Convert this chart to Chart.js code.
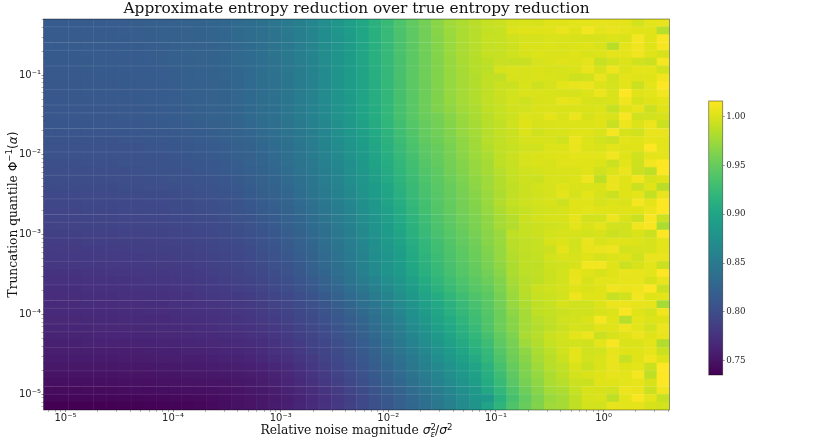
<!DOCTYPE html>
<html>
<head>
<meta charset="utf-8">
<title>Approximate entropy reduction</title>
<script src="https://cdn.jsdelivr.net/npm/chart.js@4/dist/chart.umd.min.js"></script>
<style>
  html, body { margin: 0; padding: 0; background: #fff; }
  canvas { position: absolute; top: 0; }
</style>
</head>
<body>
<canvas id="heatChart" width="830" height="443" style="left:0"></canvas>
<canvas id="barChart" width="70" height="443" style="left:700px"></canvas>
<script>
// heatmap values x1000, one array per row, top row first, 50 columns each
const row00 = [815,815,815,815,815,816,816,817,818,819,820,821,823,825,827,830,833,837,842,848,854,862,870,880,890,900,911,922,934,944,953,963,972,978,983,988,990,994,996,995,998,999,1000,1000,1002,1001,1001,993,1000,1003];
const row01 = [815,815,815,815,815,815,816,816,817,818,819,821,822,824,826,829,832,836,841,847,853,861,869,879,889,899,910,921,933,943,952,962,971,977,982,987,988,997,998,999,999,1003,999,1007,1001,1003,1001,999,999,982];
const row02 = [814,814,814,814,814,815,815,816,817,818,819,820,822,824,826,829,832,836,841,846,853,860,869,878,888,899,910,921,932,943,952,961,970,977,982,988,988,992,994,994,996,996,995,995,995,997,996,1008,998,1010];
const row03 = [814,814,814,814,814,814,815,815,816,817,818,820,821,823,825,828,831,835,840,846,852,860,868,878,888,898,909,920,932,942,952,961,970,976,982,987,988,991,996,996,997,996,997,998,996,983,1001,1006,998,1009];
const row04 = [813,813,813,814,814,814,815,815,816,817,818,820,821,823,825,828,831,835,840,846,852,860,868,878,888,898,909,920,932,942,951,961,970,976,982,988,988,992,995,997,996,996,998,996,997,1001,1001,1006,998,995];
const row05 = [813,813,813,813,814,814,814,815,816,817,818,819,821,823,825,828,831,835,839,845,852,859,868,877,887,898,909,920,931,942,951,960,969,976,981,985,989,988,989,994,996,999,997,1001,988,993,997,992,990,1008];
const row06 = [812,812,812,813,813,813,814,814,815,816,817,819,820,822,824,827,830,834,839,845,851,859,867,877,887,897,908,919,931,941,951,960,969,975,981,984,994,996,995,996,995,994,996,1003,995,1005,997,1001,1000,993];
const row07 = [812,812,812,812,813,813,813,814,815,816,817,818,820,822,824,827,830,834,838,844,851,858,867,876,886,897,908,919,931,941,951,960,968,975,980,986,986,995,995,996,996,995,991,992,1003,993,1001,999,999,1006];
const row08 = [811,811,811,812,812,812,813,813,814,815,816,818,819,821,823,826,830,834,838,844,850,858,866,876,886,896,907,919,930,941,950,960,968,975,980,986,990,990,996,991,994,1000,1003,1004,997,994,1000,990,1000,1014];
const row09 = [811,811,811,812,812,812,813,813,814,815,816,818,819,821,823,826,829,833,838,843,850,858,866,876,886,896,907,918,930,940,950,959,968,974,980,986,990,993,996,996,996,995,994,997,1004,996,1016,998,1000,1007];
const row10 = [811,811,811,811,812,812,812,813,814,815,816,817,819,821,823,826,829,833,837,843,850,857,866,875,885,896,907,918,930,940,950,959,967,974,979,986,989,993,991,995,996,1002,1000,995,994,996,1006,995,999,1001];
const row11 = [810,810,810,811,811,811,812,812,813,814,815,817,818,820,822,825,829,833,837,842,849,857,865,875,885,895,906,918,930,940,950,959,966,973,978,985,988,992,993,996,996,996,996,996,997,988,998,1002,990,998];
const row12 = [810,810,810,811,811,811,812,812,813,814,815,817,818,820,822,825,829,833,837,842,849,857,865,875,885,895,906,918,930,940,949,954,962,970,976,983,988,991,997,996,1001,996,1004,995,998,996,1010,992,993,995];
const row13 = [809,809,809,809,810,810,810,811,812,813,814,815,817,819,821,824,828,832,836,841,848,855,863,873,883,893,904,916,928,938,947,953,961,969,975,982,986,992,998,995,996,997,997,997,999,989,1005,997,1004,990];
const row14 = [808,808,808,808,808,809,809,810,811,811,812,814,815,817,819,822,826,830,834,840,846,854,862,871,881,891,902,914,926,936,946,952,960,968,974,982,987,990,997,992,995,996,999,998,996,1008,995,992,1003,1003];
const row15 = [806,806,806,807,807,807,808,808,809,810,811,812,814,816,818,821,824,828,833,838,845,852,860,869,879,889,900,912,924,934,944,950,958,966,973,982,986,990,994,995,995,992,1004,997,993,991,1000,998,1002,1000];
const row16 = [805,805,805,805,806,806,806,807,808,808,809,811,812,814,816,819,823,827,831,837,843,851,859,867,877,887,898,910,922,932,942,948,956,965,972,980,986,988,992,992,997,997,1003,997,996,1000,999,999,1012,1000];
const row17 = [804,804,804,804,804,805,805,806,806,807,808,809,811,813,815,818,821,825,830,835,842,849,857,865,875,885,896,908,920,930,940,947,955,963,971,977,985,990,995,996,997,998,1001,1000,1000,1007,998,992,1001,1001];
const row18 = [802,802,802,803,803,803,804,804,805,806,807,808,809,811,813,816,820,824,828,834,840,847,855,863,873,883,894,906,918,928,938,945,953,961,969,975,985,988,994,996,995,998,998,998,997,990,1000,991,1007,1012];
const row19 = [801,801,801,801,802,802,802,803,804,804,805,806,808,810,812,815,818,822,827,832,839,846,854,861,871,881,892,904,916,926,936,943,952,960,968,975,982,988,992,993,995,996,996,999,992,997,1004,990,985,1018];
const row20 = [800,800,800,800,800,801,801,802,802,803,804,805,806,808,810,813,817,821,825,830,837,844,852,860,869,879,890,902,914,924,934,942,950,958,966,972,980,987,991,990,995,995,997,1005,985,1003,999,1006,995,998];
const row21 = [798,798,798,798,799,799,800,800,801,801,802,803,805,806,808,811,815,819,823,828,835,842,850,858,867,877,888,899,911,922,932,940,948,956,964,972,980,985,990,993,994,998,996,996,996,1004,998,990,998,983];
const row22 = [796,796,796,797,797,797,798,798,799,799,800,801,803,804,806,809,813,817,821,826,833,840,848,856,865,875,886,897,909,921,931,939,947,955,962,970,978,986,990,992,994,1000,994,1000,995,990,998,1000,987,1003];
const row23 = [794,794,794,795,795,795,796,796,797,797,798,799,801,802,804,807,811,815,819,824,830,838,845,853,862,872,883,895,907,919,929,938,946,954,961,970,980,987,991,993,995,991,998,998,994,997,996,1008,1001,1012];
const row24 = [793,793,793,794,794,794,795,795,796,796,797,798,800,801,803,806,809,813,817,822,828,835,843,851,860,870,881,893,905,917,928,937,945,953,960,968,978,985,988,992,993,995,998,1000,998,999,999,999,1004,1016];
const row25 = [791,791,791,792,792,792,793,793,794,794,795,796,798,799,801,804,807,811,815,820,826,833,841,849,858,868,879,890,902,914,925,935,943,951,958,966,975,981,990,993,995,995,1002,993,993,1005,996,990,1010,990];
const row26 = [789,789,789,790,790,790,791,791,792,792,793,794,796,797,799,802,805,809,813,818,824,831,838,847,856,866,877,888,900,912,923,933,941,949,957,965,975,980,988,990,992,993,1000,996,1000,993,992,1006,1010,978];
const row27 = [787,787,787,788,788,788,789,789,790,790,791,792,794,796,798,800,803,807,811,816,822,829,836,845,854,864,875,886,897,910,921,931,939,947,955,963,970,985,988,990,993,995,995,993,995,990,992,996,990,1016];
const row28 = [785,785,785,786,786,786,787,787,788,788,789,790,792,794,796,798,801,805,809,814,820,827,834,843,852,862,873,884,894,907,918,928,937,945,952,962,970,983,986,988,995,997,993,1003,996,998,998,997,995,1000];
const row29 = [783,783,783,784,784,785,785,786,786,787,787,788,790,792,794,796,799,803,807,812,818,825,832,841,850,860,871,881,891,904,916,926,935,943,950,960,968,982,986,988,990,1001,993,1002,1003,1005,993,994,995,1000];
const row30 = [782,782,782,782,783,783,784,784,785,785,786,787,788,790,792,794,797,801,805,810,816,823,830,839,848,858,869,879,889,902,914,924,933,941,949,958,968,980,985,987,993,996,995,998,994,997,998,992,1003,1003];
const row31 = [779,779,779,780,780,781,781,782,782,783,783,784,786,788,790,792,795,799,803,807,813,820,828,836,846,856,867,877,887,900,912,922,931,939,947,956,966,978,985,985,991,992,995,1007,1007,998,990,995,1000,990];
const row32 = [776,776,776,777,777,778,778,779,780,780,781,782,784,786,788,790,793,796,800,805,811,818,825,834,844,855,866,876,885,898,910,920,930,938,945,953,963,978,984,986,990,993,1002,998,995,998,1003,1002,1000,1014];
const row33 = [774,774,774,775,775,776,776,777,778,778,779,780,782,784,786,788,790,794,798,802,808,814,821,830,840,850,860,870,880,893,905,916,926,934,942,950,960,975,982,985,990,993,1003,995,1000,1000,1002,1002,995,1003];
const row34 = [772,772,772,773,773,774,774,775,776,776,777,778,780,782,784,786,788,791,795,800,805,811,818,826,835,844,855,865,876,888,900,911,922,931,939,945,958,972,983,990,992,994,998,996,998,1006,1004,1005,1012,990];
const row35 = [771,771,771,772,772,772,773,773,774,774,775,776,778,780,781,782,785,788,792,796,801,807,813,821,830,838,849,860,871,883,895,906,917,926,935,942,955,970,982,988,990,993,1005,998,999,988,992,1007,999,1000];
const row36 = [769,769,769,770,770,770,771,771,772,772,773,774,775,777,778,780,782,785,789,793,798,803,809,817,825,834,844,855,867,878,890,901,912,922,931,940,953,968,978,985,988,995,992,992,997,1004,1004,1002,1002,975];
const row37 = [768,768,768,769,769,769,770,770,771,771,772,773,774,775,777,778,780,783,786,790,795,800,806,813,821,829,839,850,862,874,886,898,909,919,928,938,950,965,975,985,987,990,992,992,995,997,1010,998,994,1006];
const row38 = [766,766,766,767,767,767,768,768,769,769,770,771,772,773,775,776,778,781,784,788,793,798,803,810,817,825,835,846,858,870,882,894,905,915,925,936,950,962,974,982,986,992,993,996,1008,998,982,1000,997,998];
const row39 = [765,765,765,765,766,766,766,767,767,768,768,769,770,771,773,774,776,778,781,785,790,795,800,807,814,822,832,843,854,866,878,890,901,912,922,935,950,962,974,980,985,990,994,993,998,998,1005,1000,993,1004];
const row40 = [763,763,763,763,764,764,764,765,765,766,766,767,768,769,770,771,773,775,778,782,787,792,797,804,811,819,828,839,850,861,873,885,897,908,918,930,945,958,976,982,990,993,1000,1004,990,995,998,1004,999,1003];
const row41 = [760,760,760,761,761,761,762,762,762,763,763,764,765,766,767,768,770,772,775,779,784,789,794,801,808,816,825,835,846,857,868,880,892,903,914,925,943,955,972,980,988,992,993,992,1000,1010,996,996,1000,980];
const row42 = [758,758,758,758,758,759,759,759,760,760,760,761,762,763,764,765,767,770,773,777,781,787,792,798,805,813,822,832,842,852,863,875,887,898,909,920,938,952,965,977,984,992,1000,992,993,1002,998,998,1002,990];
const row43 = [756,756,756,756,756,756,757,757,757,758,758,759,759,760,761,762,764,767,770,773,778,783,789,795,803,810,819,828,838,848,859,870,881,892,903,918,935,950,962,975,983,990,1000,993,996,1003,988,999,1006,997];
const row44 = [752,752,752,752,752,752,753,753,753,754,754,755,755,756,757,758,760,762,765,769,774,780,786,793,800,808,816,825,835,845,855,865,875,886,897,912,930,947,960,972,982,986,996,990,996,1003,998,1000,990,1018];
const row45 = [749,749,749,749,749,749,750,750,750,751,751,752,753,753,754,755,757,759,762,766,771,777,783,790,797,805,813,822,831,841,851,861,871,882,893,908,925,943,958,968,978,985,993,996,998,1002,1000,1008,985,1018];
const row46 = [746,746,746,746,746,746,747,747,747,748,748,749,749,750,751,752,754,757,760,764,769,774,780,786,794,802,810,818,827,837,847,857,867,878,889,905,922,940,955,965,977,982,990,990,998,998,1000,1002,995,1014];
const row47 = [743,743,743,743,743,743,744,744,744,745,745,746,746,747,748,750,752,754,757,761,766,771,777,783,791,799,807,815,823,832,841,851,861,872,883,900,918,935,950,962,974,978,988,995,995,993,1004,1003,990,1006];
const row48 = [740,740,740,740,740,740,740,740,741,741,742,742,743,744,746,748,750,752,755,759,763,768,773,780,787,795,803,811,819,828,837,847,857,868,879,885,910,930,945,958,970,975,985,995,996,985,1000,1010,1000,988];
const row49 = [735,735,735,735,735,736,736,736,737,737,738,739,740,742,745,748,750,753,756,760,765,770,775,781,788,795,803,811,819,827,835,845,855,866,877,895,915,935,948,960,972,975,985,993,993,1002,1000,1001,995,993];
const rows = [row00,row01,row02,row03,row04,row05,row06,row07,row08,row09,row10,row11,row12,row13,row14,row15,row16,row17,row18,row19,row20,row21,row22,row23,row24,row25,row26,row27,row28,row29,row30,row31,row32,row33,row34,row35,row36,row37,row38,row39,row40,row41,row42,row43,row44,row45,row46,row47,row48,row49];

// axis range, as log10 of the limits
const xLogRange = [-5.204, 0.613];
const yLogRange = [-5.197, -0.297];
const xTickExps = [-5, -4, -3, -2, -1, 0];
const yTickExps = [-5, -4, -3, -2, -1];
const barTicks = [0.75, 0.80, 0.85, 0.90, 0.95, 1.00];
const barRange = [0.7353, 1.016];
const colorTop = 1.012;

// row/column borders where the mesh shows a thin light seam
const seamRows = [1,3,4,6,9,11,12,14,15,17,20,23,25,26,28,31,34,36,37,39,40,42,45,47,48];
const seamCols = [2,4,5,7,9,11,13,15,17,18,19,21,22,23,25,27,28,30,31,33,34,36,37,38,39,41,45,46,48];

const supers = { '-': '⁻', '0': '⁰', '1': '¹', '2': '²', '3': '³', '4': '⁴', '5': '⁵' };
const viridis = ['#440154','#471365','#482475','#463480','#414487','#3b528b','#355f8d','#2f6c8e','#2a788e','#25848e','#21918c','#1e9c89','#22a884','#2fb47c','#44bf70','#5ec962','#7ad151','#9bd93c','#bddf26','#dfe318','#fde725'];

const serif = '"DejaVu Serif"';
const sans = '"DejaVu Sans"';
const frameColor = 'rgba(0,0,0,0.5)';

function hexToRgb(hex) {
    return [1, 3, 5].map(i => parseInt(hex.slice(i, i + 2), 16));
}

function colorFor(value) {
    let t = (value - barRange[0]) / (colorTop - barRange[0]);
    t = Math.min(1, Math.max(0, t)) * (viridis.length - 1);
    const i = Math.min(viridis.length - 2, Math.floor(t));
    const a = hexToRgb(viridis[i]);
    const b = hexToRgb(viridis[i + 1]);
    const mix = a.map((v, k) => Math.round(v + (b[k] - v) * (t - i)));
    return `rgb(${mix[0]},${mix[1]},${mix[2]})`;
}

function tickLabel(exp) {
    return '10' + String(exp).split('').map(ch => supers[ch]).join('');
}

const nRows = rows.length;
const nCols = rows[0].length;
const xEdge = i => Math.pow(10, xLogRange[0] + (xLogRange[1] - xLogRange[0]) * i / nCols);
// rows run from the top of the plot down
const yEdge = i => Math.pow(10, yLogRange[1] - (yLogRange[1] - yLogRange[0]) * i / nRows);

const cellData = [];
const cellColors = [];
rows.forEach((row, r) => {
    row.forEach((v, c) => {
        cellData.push({ y: Math.sqrt(yEdge(r) * yEdge(r + 1)), x: [xEdge(c), xEdge(c + 1)] });
        cellColors.push(colorFor(v / 1000));
    });
});

const seamSets = [
    ...seamRows.map(r => ({
        type: 'line', order: 0, pointRadius: 0, borderWidth: 1, borderColor: 'rgba(255,255,255,0.1)',
        data: [{ x: xEdge(0), y: yEdge(r) }, { x: xEdge(nCols), y: yEdge(r) }]
    })),
    ...seamCols.map(c => ({
        type: 'line', order: 0, pointRadius: 0, borderWidth: 1, borderColor: 'rgba(255,255,255,0.025)',
        data: [{ x: xEdge(c), y: yEdge(0) }, { x: xEdge(c), y: yEdge(nRows) }]
    }))
];

// log ticks: decades plus the 2..9 minors in each one
function logTicks(scale, exps) {
    const lo = exps[0] - 1;
    const hi = exps[exps.length - 1] + 1;
    const list = [];
    for (let e = lo; e <= hi; e++) {
        for (let m = 1; m < 10; m++) {
            const value = m * Math.pow(10, e);
            if (value >= scale.min && value <= scale.max) list.push({ value: value, major: m === 1 });
        }
    }
    scale.ticks = list;
}

function logAxis(range, exps) {
    return {
        type: 'logarithmic',
        min: Math.pow(10, range[0]),
        max: Math.pow(10, range[1]),
        offset: false,
        beginAtZero: false,
        border: { display: false },
        grid: {
            offset: false,
            drawOnChartArea: false,
            drawTicks: true,
            tickLength: 2,
            tickWidth: 0.7,
            tickColor: ctx => (ctx.tick && ctx.tick.major) ? 'rgba(0,0,0,0.6)' : 'rgba(0,0,0,0.4)'
        },
        ticks: {
            autoSkip: false,
            maxRotation: 0,
            padding: 0.5,
            color: '#262626',
            font: { family: sans, size: 10 },
            callback: function (value) {
                const exp = Math.round(Math.log10(value));
                if (Math.abs(Math.pow(10, exp) - value) / value > 1e-6) return '';
                return tickLabel(exp);
            }
        },
        afterBuildTicks: scale => logTicks(scale, exps)
    };
}

// text with super/subscripts, axis titles can't do this on their own
function drawRuns(ctx, runs, size) {
    const fontOf = run => `${run.italic ? 'italic ' : ''}${size * (run.scale || 1)}px ${run.math ? sans : serif}`;
    let total = 0;
    runs.forEach(run => {
        ctx.font = fontOf(run);
        if (!run.stacked) total += ctx.measureText(run.text).width;
    });
    let x = -total / 2;
    ctx.textAlign = 'left';
    ctx.textBaseline = 'alphabetic';
    ctx.fillStyle = '#111';
    runs.forEach(run => {
        ctx.font = fontOf(run);
        ctx.fillText(run.text, x, run.dy || 0);
        if (!run.stacked) x += ctx.measureText(run.text).width;
    });
}

const xTitleRuns = [
    { text: 'Relative noise magnitude ' },
    { text: 'σ', math: true, italic: true },
    { text: '2', math: true, scale: 0.7, dy: -4.5, stacked: true },
    { text: 'ε', math: true, italic: true, scale: 0.7, dy: 3 },
    { text: '/', math: true },
    { text: 'σ', math: true, italic: true },
    { text: '2', math: true, scale: 0.7, dy: -4.5 }
];
const yTitleRuns = [
    { text: 'Truncation quantile ' },
    { text: 'Φ', math: true },
    { text: '−1', math: true, scale: 0.7, dy: -5 },
    { text: '(', math: true },
    { text: 'α', math: true, italic: true },
    { text: ')', math: true }
];

const framePlugin = {
    id: 'frame',
    afterDatasetsDraw(chart) {
        const a = chart.chartArea;
        const ctx = chart.ctx;
        ctx.save();
        ctx.strokeStyle = frameColor;
        ctx.lineWidth = 0.8;
        ctx.strokeRect(a.left, a.top, a.right - a.left, a.bottom - a.top);
        ctx.restore();
    }
};

const axisTitlePlugin = {
    id: 'axisTitles',
    afterDraw(chart) {
        const ctx = chart.ctx;
        const a = chart.chartArea;
        ctx.save();
        ctx.translate((a.left + a.right) / 2, 434);
        drawRuns(ctx, xTitleRuns, 12.3);
        ctx.restore();
        ctx.save();
        ctx.translate(17, (a.top + a.bottom) / 2);
        ctx.rotate(-Math.PI / 2);
        drawRuns(ctx, yTitleRuns, 12.2);
        ctx.restore();
    }
};

new Chart(document.getElementById('heatChart'), {
    type: 'bar',
    data: {
        datasets: [
            ...seamSets,
            {
                type: 'bar',
                order: 1,
                indexAxis: 'y',
                grouped: false,
                barThickness: 7.82,
                data: cellData,
                backgroundColor: cellColors
            }
        ]
    },
    options: {
        responsive: false,
        animation: false,
        layout: { padding: { left: 0, right: 160.5, top: 0, bottom: 0 } },
        plugins: {
            legend: { display: false },
            tooltip: { enabled: false },
            title: {
                display: true,
                fullSize: false,
                text: 'Approximate entropy reduction over true entropy reduction',
                color: '#111',
                font: { family: serif, size: 15.35, weight: 'normal', lineHeight: 1.2 },
                padding: { top: 0, bottom: 0.6 }
            }
        },
        scales: {
            x: { ...logAxis(xLogRange, xTickExps), afterFit: s => { s.height = 33; } },
            y: { ...logAxis(yLogRange, yTickExps), afterFit: s => { s.width = 43.5; } }
        }
    },
    plugins: [framePlugin, axisTitlePlugin]
});

// colorbar
new Chart(document.getElementById('barChart'), {
    type: 'bar',
    data: {
        labels: [''],
        datasets: [{
            data: [barRange],
            categoryPercentage: 1,
            barPercentage: 1,
            backgroundColor: function (context) {
                const a = context.chart.chartArea;
                if (!a) return viridis[10];
                const g = context.chart.ctx.createLinearGradient(0, a.bottom, 0, a.top);
                viridis.forEach((c, i) => g.addColorStop(i / (viridis.length - 1), c));
                return g;
            }
        }]
    },
    options: {
        responsive: false,
        animation: false,
        layout: { padding: { left: 8.7, right: 0, top: 101, bottom: 68 } },
        plugins: { legend: { display: false }, tooltip: { enabled: false } },
        scales: {
            x: { display: false },
            y: {
                position: 'right',
                min: barRange[0],
                max: barRange[1],
                beginAtZero: false,
                border: { display: false },
                grid: { drawOnChartArea: false, drawTicks: true, tickLength: 2, tickWidth: 0.7, tickColor: 'rgba(0,0,0,0.6)' },
                ticks: {
                    padding: 1.5,
                    color: '#262626',
                    font: { family: serif, size: 8.7 },
                    callback: value => value.toFixed(2)
                },
                afterBuildTicks: s => { s.ticks = barTicks.map(v => ({ value: v })); },
                afterFit: s => { s.width = 47.3; }
            }
        }
    },
    plugins: [framePlugin]
});
</script>
</body>
</html>
